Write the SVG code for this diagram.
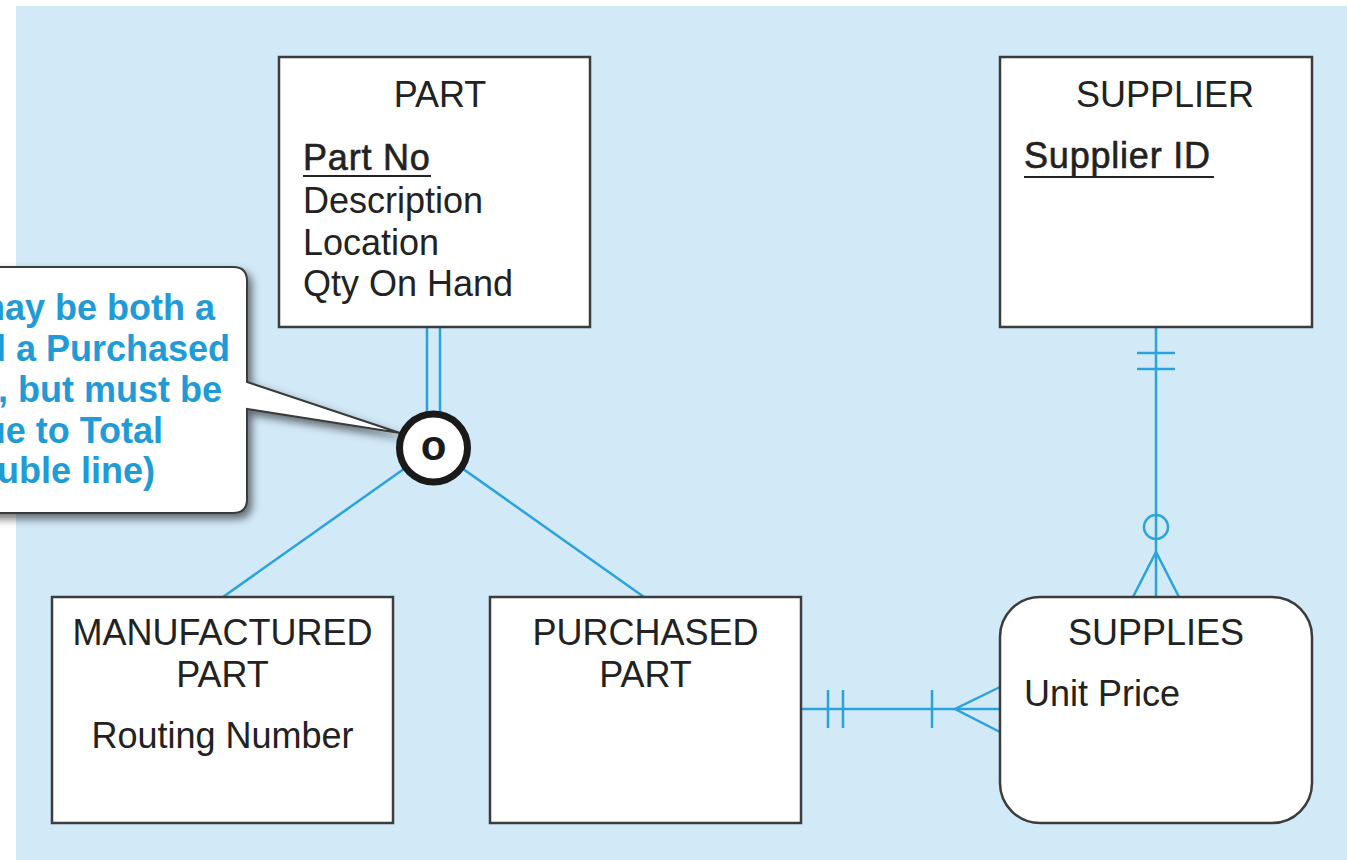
<svg xmlns="http://www.w3.org/2000/svg" width="1347" height="860" viewBox="0 0 1347 860">
  <defs>
    <filter id="shadow" x="-20%" y="-20%" width="150%" height="150%">
      <feDropShadow dx="4" dy="5" stdDeviation="4" flood-color="#000" flood-opacity="0.55"/>
    </filter>
    <style>
      .box { fill: #ffffff; stroke: #3c3c3c; stroke-width: 2.5; }
      .t { font-family: "Liberation Sans", Arial, sans-serif; font-size: 36px; fill: #222222; }
      .c { text-anchor: middle; }
      .key { stroke: #222222; stroke-width: 0.6; letter-spacing: 0.8px; }
      .ul { stroke: #222222; stroke-width: 2; }
      .conn { stroke: #2aa3dc; stroke-width: 2.5; fill: none; }
      .note { font-family: "Liberation Sans", Arial, sans-serif; font-size: 36px; font-weight: bold; fill: #1f9bd7; text-anchor: end; }
    </style>
  </defs>

  <rect x="0" y="0" width="1347" height="860" fill="#ffffff"/>
  <rect x="16" y="6" width="1331" height="854" fill="#d2e9f8"/>

  <g id="connectors">
    <line class="conn" x1="427" y1="327" x2="427" y2="420"/>
    <line class="conn" x1="440" y1="327" x2="440" y2="420"/>
    <line class="conn" x1="433.5" y1="448" x2="223" y2="597"/>
    <line class="conn" x1="433.5" y1="448" x2="644" y2="597"/>
    <!-- SUPPLIER - SUPPLIES -->
    <line class="conn" x1="1156" y1="327" x2="1156" y2="597"/>
    <line class="conn" x1="1137" y1="353" x2="1175" y2="353"/>
    <line class="conn" x1="1137" y1="369" x2="1175" y2="369"/>
    <circle class="conn" cx="1156" cy="527" r="12" fill="#d2e9f8"/>
    <polyline class="conn" points="1133,597 1156,552 1179,597"/>
    <!-- PURCHASED PART - SUPPLIES -->
    <line class="conn" x1="801" y1="709" x2="1000" y2="709"/>
    <line class="conn" x1="828" y1="690" x2="828" y2="728"/>
    <line class="conn" x1="843" y1="690" x2="843" y2="728"/>
    <line class="conn" x1="932" y1="690" x2="932" y2="728"/>
    <polyline class="conn" points="1000,687 955,709 1000,732"/>
  </g>

  <g id="note">
    <path d="M -30 267 L 233 267 Q 247 267 247 281 L 247 382 L 400 433 L 247 409 L 247 499 Q 247 513 233 513 L -30 513 Z" fill="#ffffff" stroke="#3a3a3a" stroke-width="2" filter="url(#shadow)"/>
    <text class="note" x="215" y="320">may be both a</text>
    <text class="note" x="230" y="361">d a Purchased</text>
    <text class="note" x="222" y="402">, but must be</text>
    <text class="note" x="163" y="443">ue to Total</text>
    <text class="note" x="155" y="483">uble line)</text>
  </g>

  <g id="part">
    <rect class="box" x="279" y="57" width="311" height="270"/>
    <text class="t c" x="440" y="107">PART</text>
    <text class="t key" x="303" y="170">Part No</text>
    <line class="ul" x1="303" y1="176" x2="431" y2="176"/>
    <text class="t" x="303" y="213">Description</text>
    <text class="t" x="303" y="255">Location</text>
    <text class="t" x="303" y="296">Qty On Hand</text>
  </g>

  <g id="supplier">
    <rect class="box" x="1000" y="57" width="312" height="270"/>
    <text class="t c" x="1165" y="107">SUPPLIER</text>
    <text class="t key" x="1024" y="168">Supplier ID</text>
    <line class="ul" x1="1024" y1="177" x2="1214" y2="177"/>
  </g>

  <g id="subtype-circle">
    <circle cx="433.5" cy="448" r="34" fill="#ffffff" stroke="#1a1a1a" stroke-width="7"/>
    <text x="433.5" y="460" font-family="Liberation Sans, Arial, sans-serif" font-size="42" font-weight="bold" fill="#1a1a1a" text-anchor="middle">o</text>
  </g>

  <g id="manufactured-part">
    <rect class="box" x="52" y="597" width="341" height="226"/>
    <text class="t c" x="222.5" y="645">MANUFACTURED</text>
    <text class="t c" x="222.5" y="687">PART</text>
    <text class="t c" x="222.5" y="748">Routing Number</text>
  </g>

  <g id="purchased-part">
    <rect class="box" x="490" y="597" width="311" height="226"/>
    <text class="t c" x="645.5" y="645">PURCHASED</text>
    <text class="t c" x="645.5" y="687">PART</text>
  </g>

  <g id="supplies">
    <rect class="box" x="1000" y="597" width="312" height="226" rx="40" ry="40"/>
    <text class="t c" x="1156" y="645">SUPPLIES</text>
    <text class="t" x="1024" y="706">Unit Price</text>
  </g>
</svg>
